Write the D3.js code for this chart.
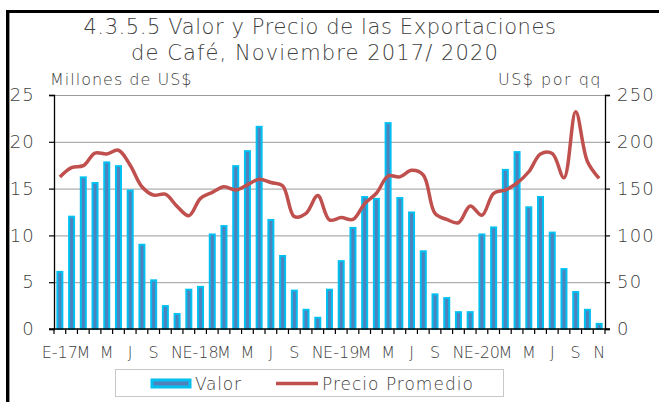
<!DOCTYPE html>
<html><head><meta charset="utf-8">
<script src="https://cdn.jsdelivr.net/npm/d3@7"></script>
<style>
html,body{margin:0;padding:0;background:#fff;}
text{font-family:"DejaVu Sans",sans-serif;font-weight:200;fill:#404040;}
</style></head>
<body><svg id="c" width="659" height="402"></svg>
<script>
const months = ["E","F","M","A","M","J","J","A","S","O","N","D"];
const years = ["17","18","19","20"];
const categories = [];
years.forEach(y => months.forEach((m,i) => { if (!(y==="20" && i===11)) categories.push(m + (i===0 ? "-"+y : "") ); }));
const valor = [6.1,12.0,16.2,15.6,17.8,17.4,14.8,9.0,5.2,2.45,1.6,4.2,
  4.5,10.1,11.0,17.4,19.0,21.6,11.65,7.8,4.1,2.05,1.2,4.2,
  7.25,10.8,14.1,13.9,22.0,14.0,12.45,8.3,3.7,3.3,1.8,1.8,
  10.1,10.85,17.0,18.9,13.0,14.1,10.3,6.4,3.95,2.05,0.55];
const precio = [162.5,172.5,174.5,188,187,191,175,152,143,144,131,121,
  139.5,146,152,148.5,154,160,156.5,153,120,123.5,142.5,116.5,
  119,117,134,145,163.5,162.5,169.5,164.5,123.5,117,113.5,131.5,
  121.5,145,148.5,156,168,187,187.5,161.5,232,179,161];
const leftTicks = [0,5,10,15,20,25];
const rightTicks = [0,50,100,150,200,250];

const svg = d3.select("#c");
const m = {l:54, r:605, t:95, b:329};
const x = d3.scaleBand().domain(d3.range(categories.length)).range([m.l, m.r]).paddingInner(0).paddingOuter(0);
const yL = d3.scaleLinear().domain([0,25]).range([m.b, m.t]);
const yR = d3.scaleLinear().domain([0,250]).range([m.b, m.t]);

// frame
svg.append("line").attr("x1",6).attr("x2",659).attr("y1",11.5).attr("y2",11.5).attr("stroke","#000").attr("stroke-width",3);
svg.append("line").attr("x1",7.5).attr("x2",7.5).attr("y1",10).attr("y2",402).attr("stroke","#000").attr("stroke-width",3);
svg.append("line").attr("x1",9.5).attr("x2",9.5).attr("y1",13).attr("y2",402).attr("stroke","#999").attr("stroke-width",1);

// title
svg.append("text").attr("x",320).attr("y",34).attr("text-anchor","middle").attr("font-size",21).attr("letter-spacing",0.6).text("4.3.5.5 Valor y Precio de las Exportaciones");
svg.append("text").attr("x",315).attr("y",60).attr("text-anchor","middle").attr("font-size",21).attr("letter-spacing",1.1).text("de Café,  Noviembre 2017/ 2020");
svg.append("text").attr("x",50).attr("y",85).attr("font-size",16).attr("letter-spacing",1).text("Millones  de US$");
svg.append("text").attr("x",602).attr("y",85).attr("text-anchor","end").attr("font-size",16).attr("letter-spacing",1.5).text("US$ por qq");

// gridlines
svg.append("g").selectAll("line").data(leftTicks.slice(1)).join("line")
  .attr("x1",m.l).attr("x2",m.r).attr("y1",d=>yL(d)+0.5).attr("y2",d=>yL(d)+0.5)
  .attr("stroke","#9a9a9a").attr("stroke-width",1);

// bars
const bw = 5;
svg.append("g").selectAll("rect").data(valor).join("rect")
  .attr("x",(d,i)=>x(i)+x.bandwidth()/2-bw/2).attr("width",bw)
  .attr("y",d=>yL(d)).attr("height",d=>yL(0)-yL(d))
  .attr("fill","#4f81bd").attr("stroke","#00c0f0").attr("stroke-width",2);

// line
const line = d3.line().x((d,i)=>x(i)+x.bandwidth()/2).y(d=>yR(d)).curve(d3.curveCatmullRom.alpha(0.5));
svg.append("path").datum(precio).attr("d",line).attr("fill","none").attr("stroke","#c0504d").attr("stroke-width",3.5).attr("stroke-linejoin","round");

// axes
const gL = svg.append("g").attr("transform",`translate(${m.l},0)`)
  .call(d3.axisLeft(yL).tickValues(leftTicks).tickSize(5).tickPadding(14));
const gR = svg.append("g").attr("transform",`translate(${m.r},0)`)
  .call(d3.axisRight(yR).tickValues(rightTicks).tickSize(5).tickPadding(7));
[gL,gR].forEach(g=>{
  g.select(".domain").attr("stroke","#000").attr("stroke-width",1.3);
  g.selectAll(".tick line").attr("stroke","#000").attr("stroke-width",1.2);
  g.selectAll(".tick text").attr("font-size",18).attr("letter-spacing",1.2).attr("fill","#404040").attr("font-family","DejaVu Sans, sans-serif").attr("font-weight",200);
});
// x axis
const gX = svg.append("g").attr("transform",`translate(0,${m.b})`);
gX.append("line").attr("x1",m.l-5).attr("x2",m.r+5).attr("y1",0).attr("y2",0).attr("stroke","#000").attr("stroke-width",1.3);
gX.selectAll(".tk").data(d3.range(categories.length+1)).join("line")
  .attr("x1",i=>m.l+i*x.bandwidth()).attr("x2",i=>m.l+i*x.bandwidth())
  .attr("y1",0).attr("y2",5).attr("stroke","#000").attr("stroke-width",1.2);
gX.selectAll("text").data(categories.map((c,i)=>({c,i})).filter(d=>d.i%2===0)).join("text")
  .attr("x",d=>x(d.i)+x.bandwidth()/2).attr("y",29).attr("text-anchor","middle").attr("font-size",16)
  .text(d=>d.c);

// legend
svg.append("rect").attr("x",115.5).attr("y",369.5).attr("width",388).attr("height",27).attr("fill","#fff").attr("stroke","#c8c8c8");
svg.append("rect").attr("x",152).attr("y",380).attr("width",38).attr("height",7).attr("fill","#4f81bd").attr("stroke","#00c0f0").attr("stroke-width",3);
svg.append("text").attr("x",195).attr("y",390).attr("font-size",17).attr("letter-spacing",0.8).text("Valor");
svg.append("line").attr("x1",276).attr("x2",318).attr("y1",383.5).attr("y2",383.5).attr("stroke","#c0504d").attr("stroke-width",3.5);
svg.append("text").attr("x",322).attr("y",390).attr("font-size",17).attr("letter-spacing",1).text("Precio Promedio");
</script></body></html>
